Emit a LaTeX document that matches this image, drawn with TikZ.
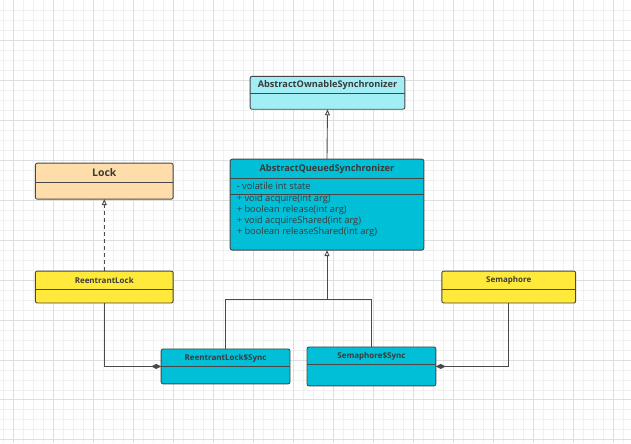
\documentclass[tikz,border=0pt]{standalone}
\usepackage{fontspec}
\setsansfont{Open Sans}
\usetikzlibrary{calc}
\usetikzlibrary{arrows.meta}
\tikzset{umlbox/.style={draw=boxline, line width=0.9pt, rounded corners=2pt, inner sep=0pt, outer sep=0pt},
	umlname/.style={font=\sffamily\bfseries\fontsize{8}{9}\selectfont, text=txt, inner sep=0pt},
	umlattr/.style={font=\sffamily\fontsize{9.3}{10.8}\selectfont, text=txt, inner sep=0pt, align=left},
	conn/.style={draw=connline, line width=0.9pt},
	inherit/.style={-{Triangle[open, length=6pt, width=5pt]}},
	compose/.style={-{Diamond[length=10pt, width=5pt]}}}

\begin{document}
\begin{tikzpicture}[x=1pt, y=-1pt]
	
	\definecolor{boxline}{HTML}{474747}
	\definecolor{connline}{HTML}{4A4A4A}
	\definecolor{txt}{HTML}{3A3A3A}
	\definecolor{aosfill}{HTML}{A2EEF5}
	\definecolor{cyanfill}{HTML}{00BFD6}
	\definecolor{lockfill}{HTML}{FFDDAA}
	\definecolor{yellowfill}{HTML}{FFE93B}
	\definecolor{gridminor}{HTML}{F0F0F0}
	\definecolor{gridmajor}{HTML}{DEDEDE}
	
	% background grid
	\fill [white] (0,0) rectangle (631,443);
	\foreach \x in {3.3,13.3,...,631}
		\draw [gridminor, line width=0.8pt] (\x,0) -- (\x,443);
	\foreach \y in {10,20,...,440}
		\draw [gridminor, line width=0.8pt] (0,\y) -- (631,\y);
	\foreach \x in {13.3,53.3,...,631}
		\draw [gridmajor, line width=0.8pt] (\x,0) -- (\x,443);
	\foreach \y in {40,80,...,440}
		\draw [gridmajor, line width=0.8pt] (0,\y) -- (631,\y);
	\useasboundingbox (0,0) rectangle (631,443);
	
	% AbstractOwnableSynchronizer
	\node [umlbox, fill=aosfill, minimum width=155pt, minimum height=33pt] (aos) at (327.5,92.5) {};
	\draw [boxline, line width=0.9pt] ($(aos.north west)+(0,17)$) -- ($(aos.north east)+(0,17)$);
	\node [umlname, font=\sffamily\bfseries\fontsize{9.2}{10}\selectfont] (aosname) at ($(aos.north)+(0,8.5)$) {AbstractOwnableSynchronizer};
	
	% AbstractQueuedSynchronizer
	\node [umlbox, fill=cyanfill, minimum width=194pt, minimum height=91pt] (aqs) at (327,204.5) {};
	\draw [boxline, line width=0.9pt] ($(aqs.north west)+(0,19)$) -- ($(aqs.north east)+(0,19)$);
	\draw [boxline, line width=0.9pt] ($(aqs.north west)+(0,35)$) -- ($(aqs.north east)+(0,35)$);
	\node [umlname, font=\sffamily\bfseries\fontsize{9.2}{10}\selectfont] (aqsname) at ($(aqs.north)+(0,9.5)$) {AbstractQueuedSynchronizer};
	\node [umlattr, anchor=west] (aqsfield) at ($(aqs.north west)+(6.5,27)$) {- volatile int state};
	\node [umlattr, anchor=north west] (aqsmethods) at ($(aqs.north west)+(6.5,35.5)$) {+ void acquire(int arg)\\+ boolean release(int arg)\\+ void acquireShared(int arg)\\+ boolean releaseShared(int arg)};
	
	% Lock
	\node [umlbox, fill=lockfill, minimum width=138pt, minimum height=36pt] (lock) at (104,181) {};
	\draw [boxline, line width=0.9pt] ($(lock.north west)+(0,19)$) -- ($(lock.north east)+(0,19)$);
	\node [umlname, font=\sffamily\bfseries\fontsize{10.5}{12}\selectfont] (lockname) at ($(lock.north)+(0,9.5)$) {Lock};
	
	% ReentrantLock
	\node [umlbox, fill=yellowfill, minimum width=138pt, minimum height=32pt] (rlock) at (104,287) {};
	\draw [boxline, line width=0.9pt] ($(rlock.north west)+(0,18)$) -- ($(rlock.north east)+(0,18)$);
	\node [umlname] (rlockname) at ($(rlock.north)+(0,9)$) {ReentrantLock};
	
	% Semaphore
	\node [umlbox, fill=yellowfill, minimum width=134pt, minimum height=32pt] (sem) at (509,287) {};
	\draw [boxline, line width=0.9pt] ($(sem.north west)+(0,18)$) -- ($(sem.north east)+(0,18)$);
	\node [umlname] (semname) at ($(sem.north)+(0,9)$) {Semaphore};
	
	% ReentrantLock$Sync
	\node [umlbox, fill=cyanfill, minimum width=129pt, minimum height=35pt] (rsync) at (225.5,366.5) {};
	\draw [boxline, line width=0.9pt] ($(rsync.north west)+(0,18)$) -- ($(rsync.north east)+(0,18)$);
	\node [umlname] (rsyncname) at ($(rsync.north)+(0,9)$) {ReentrantLock\$Sync};
	
	% Semaphore$Sync
	\node [umlbox, fill=cyanfill, minimum width=129pt, minimum height=39pt] (ssync) at (371.5,366.5) {};
	\draw [boxline, line width=0.9pt] ($(ssync.north west)+(0,18)$) -- ($(ssync.north east)+(0,18)$);
	\node [umlname] (ssyncname) at ($(ssync.north)+(0,9)$) {Semaphore\$Sync};
	
	% inheritance
	\coordinate (J) at (327,299);
	\draw [conn, inherit] (aqs.north) -- (aos.south);
	\draw [conn, inherit] (J) -- (aqs.south);
	\draw [conn] (rsync.north) |- (J);
	\draw [conn] (ssync.north) |- (J);
	
	% realization
	\draw [conn, inherit, dash pattern=on 4pt off 3pt] (rlock.north) -- (lock.south);
	
	% composition
	\draw [conn, compose] (rlock.south) |- (rsync.west);
	\draw [conn, compose] (sem.south) |- (ssync.east);
	
\end{tikzpicture}
\end{document}
